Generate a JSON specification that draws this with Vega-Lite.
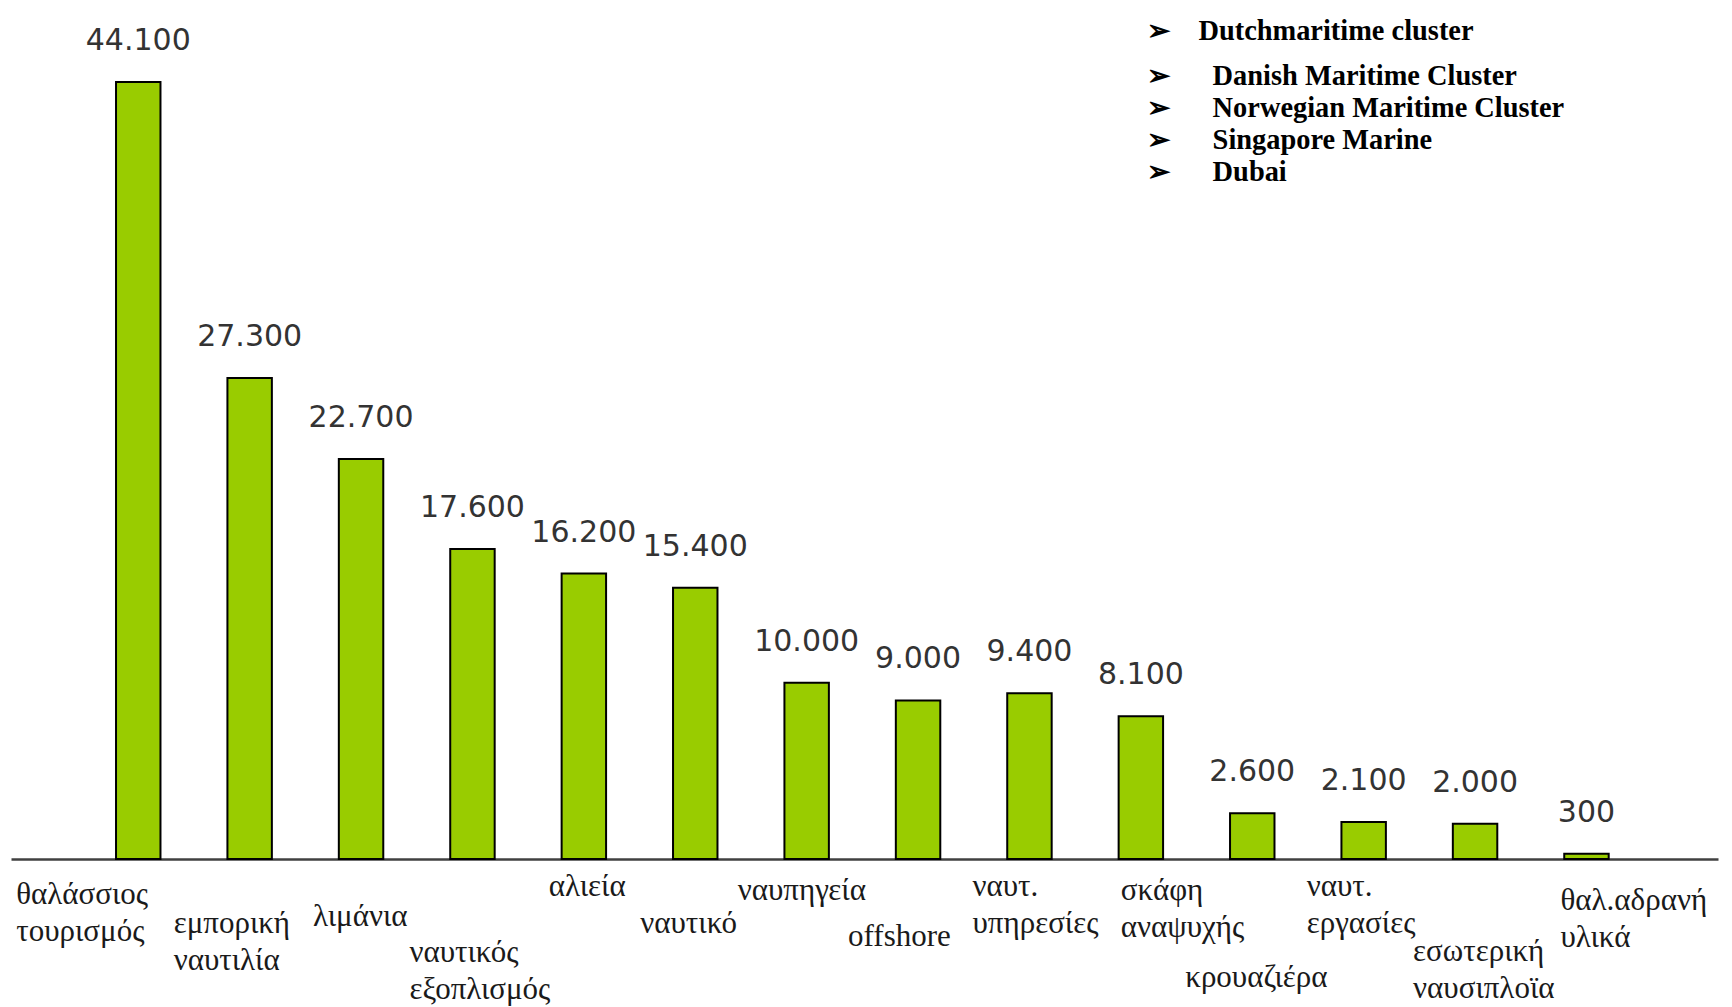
{
  "$schema": "https://vega.github.io/schema/vega-lite/v6.json",
  "width": 1707,
  "height": 859,
  "autosize": {"type": "none"},
  "padding": {"left": 11, "top": 0, "right": 14, "bottom": 148},
  "background": "white",
  "config": {
    "view": {"stroke": null},
    "locale": {"number": {"decimal": ",", "thousands": ".", "grouping": [3], "currency": ["", " €"]}}
  },
  "title": {
    "text": "➢\u2002\u2002Dutchmaritime cluster",
    "subtitle": ["➢\u2002\u2002\u2002Danish Maritime Cluster", "➢\u2002\u2002\u2002Norwegian Maritime Cluster", "➢\u2002\u2002\u2002Singapore Marine", "➢\u2002\u2002\u2002Dubai"],
    "anchor": "start",
    "frame": "group",
    "orient": "top",
    "align": "left",
    "dx": 1136,
    "offset": -187,
    "font": "Liberation Serif",
    "fontSize": 28.4,
    "fontWeight": "bold",
    "color": "#000000",
    "subtitleFont": "Liberation Serif",
    "subtitleFontSize": 28.4,
    "subtitleFontWeight": "bold",
    "subtitleColor": "#000000",
    "subtitleLineHeight": 32,
    "subtitlePadding": 16.5
  },
  "data": {
    "values": [
      {"sector": "θαλάσσιος τουρισμός", "value": 44100},
      {"sector": "εμπορική ναυτιλία", "value": 27300},
      {"sector": "λιμάνια", "value": 22700},
      {"sector": "ναυτικός εξοπλισμός", "value": 17600},
      {"sector": "αλιεία", "value": 16200},
      {"sector": "ναυτικό", "value": 15400},
      {"sector": "ναυπηγεία", "value": 10000},
      {"sector": "offshore", "value": 9000},
      {"sector": "ναυτ. υπηρεσίες", "value": 9400},
      {"sector": "σκάφη αναψυχής", "value": 8100},
      {"sector": "κρουαζιέρα", "value": 2600},
      {"sector": "ναυτ. εργασίες", "value": 2100},
      {"sector": "εσωτερική ναυσιπλοϊα", "value": 2000},
      {"sector": "θαλ.αδρανή υλικά", "value": 300}
    ]
  },
  "encoding": {
    "x": {
      "field": "sector",
      "type": "nominal",
      "sort": null,
      "scale": {"paddingInner": 0.601, "paddingOuter": 0.962, "align": 0.49},
      "axis": {
        "title": null,
        "ticks": false,
        "tickSize": 0,
        "domain": true,
        "domainColor": "#404040",
        "domainWidth": 2.5,
        "labelAngle": 0,
        "labelAlign": "left",
        "labelBaseline": "top",
        "labelFont": "Liberation Serif",
        "labelFontSize": 31,
        "labelLineHeight": 37,
        "labelColor": "#1a1a1a",
        "labelLimit": 0,
        "labelOverlap": false,
        "labelFlush": false,
        "labelBound": false,
        "labelExpr": "split(datum.value, ' ')",
        "labelOffset": {
          "condition": [
            {"test": "datum.value === 'θαλάσσιος τουρισμός'", "value": -122},
            {"test": "datum.value === 'εμπορική ναυτιλία'", "value": -76},
            {"test": "datum.value === 'λιμάνια'", "value": -48},
            {"test": "datum.value === 'ναυτικός εξοπλισμός'", "value": -63},
            {"test": "datum.value === 'αλιεία'", "value": -35},
            {"test": "datum.value === 'ναυτικό'", "value": -55},
            {"test": "datum.value === 'ναυπηγεία'", "value": -69},
            {"test": "datum.value === 'offshore'", "value": -70},
            {"test": "datum.value === 'ναυτ. υπηρεσίες'", "value": -57},
            {"test": "datum.value === 'σκάφη αναψυχής'", "value": -20},
            {"test": "datum.value === 'κρουαζιέρα'", "value": -67},
            {"test": "datum.value === 'ναυτ. εργασίες'", "value": -57},
            {"test": "datum.value === 'εσωτερική ναυσιπλοϊα'", "value": -62}
          ],
          "value": -26
        },
        "labelPadding": {
          "condition": [
            {"test": "datum.value === 'θαλάσσιος τουρισμός'", "value": 20},
            {"test": "datum.value === 'εμπορική ναυτιλία'", "value": 49},
            {"test": "datum.value === 'λιμάνια'", "value": 42},
            {"test": "datum.value === 'ναυτικός εξοπλισμός'", "value": 78},
            {"test": "datum.value === 'αλιεία'", "value": 12},
            {"test": "datum.value === 'ναυτικό'", "value": 49},
            {"test": "datum.value === 'ναυπηγεία'", "value": 16},
            {"test": "datum.value === 'offshore'", "value": 62},
            {"test": "datum.value === 'ναυτ. υπηρεσίες'", "value": 12},
            {"test": "datum.value === 'σκάφη αναψυχής'", "value": 16},
            {"test": "datum.value === 'κρουαζιέρα'", "value": 103},
            {"test": "datum.value === 'ναυτ. εργασίες'", "value": 12},
            {"test": "datum.value === 'εσωτερική ναυσιπλοϊα'", "value": 77}
          ],
          "value": 26
        }
      }
    },
    "y": {
      "field": "value",
      "type": "quantitative",
      "scale": {"domain": [0, 48751], "nice": false, "zero": true},
      "axis": null
    }
  },
  "layer": [
    {"mark": {"type": "bar", "fill": "#99cc00", "stroke": "#000000", "strokeWidth": 2}},
    {
      "mark": {"type": "text", "baseline": "middle", "dy": -41, "font": "DejaVu Sans", "fontSize": 30, "color": "#333333"},
      "encoding": {"text": {"field": "value", "type": "quantitative", "format": ",d"}}
    }
  ]
}
